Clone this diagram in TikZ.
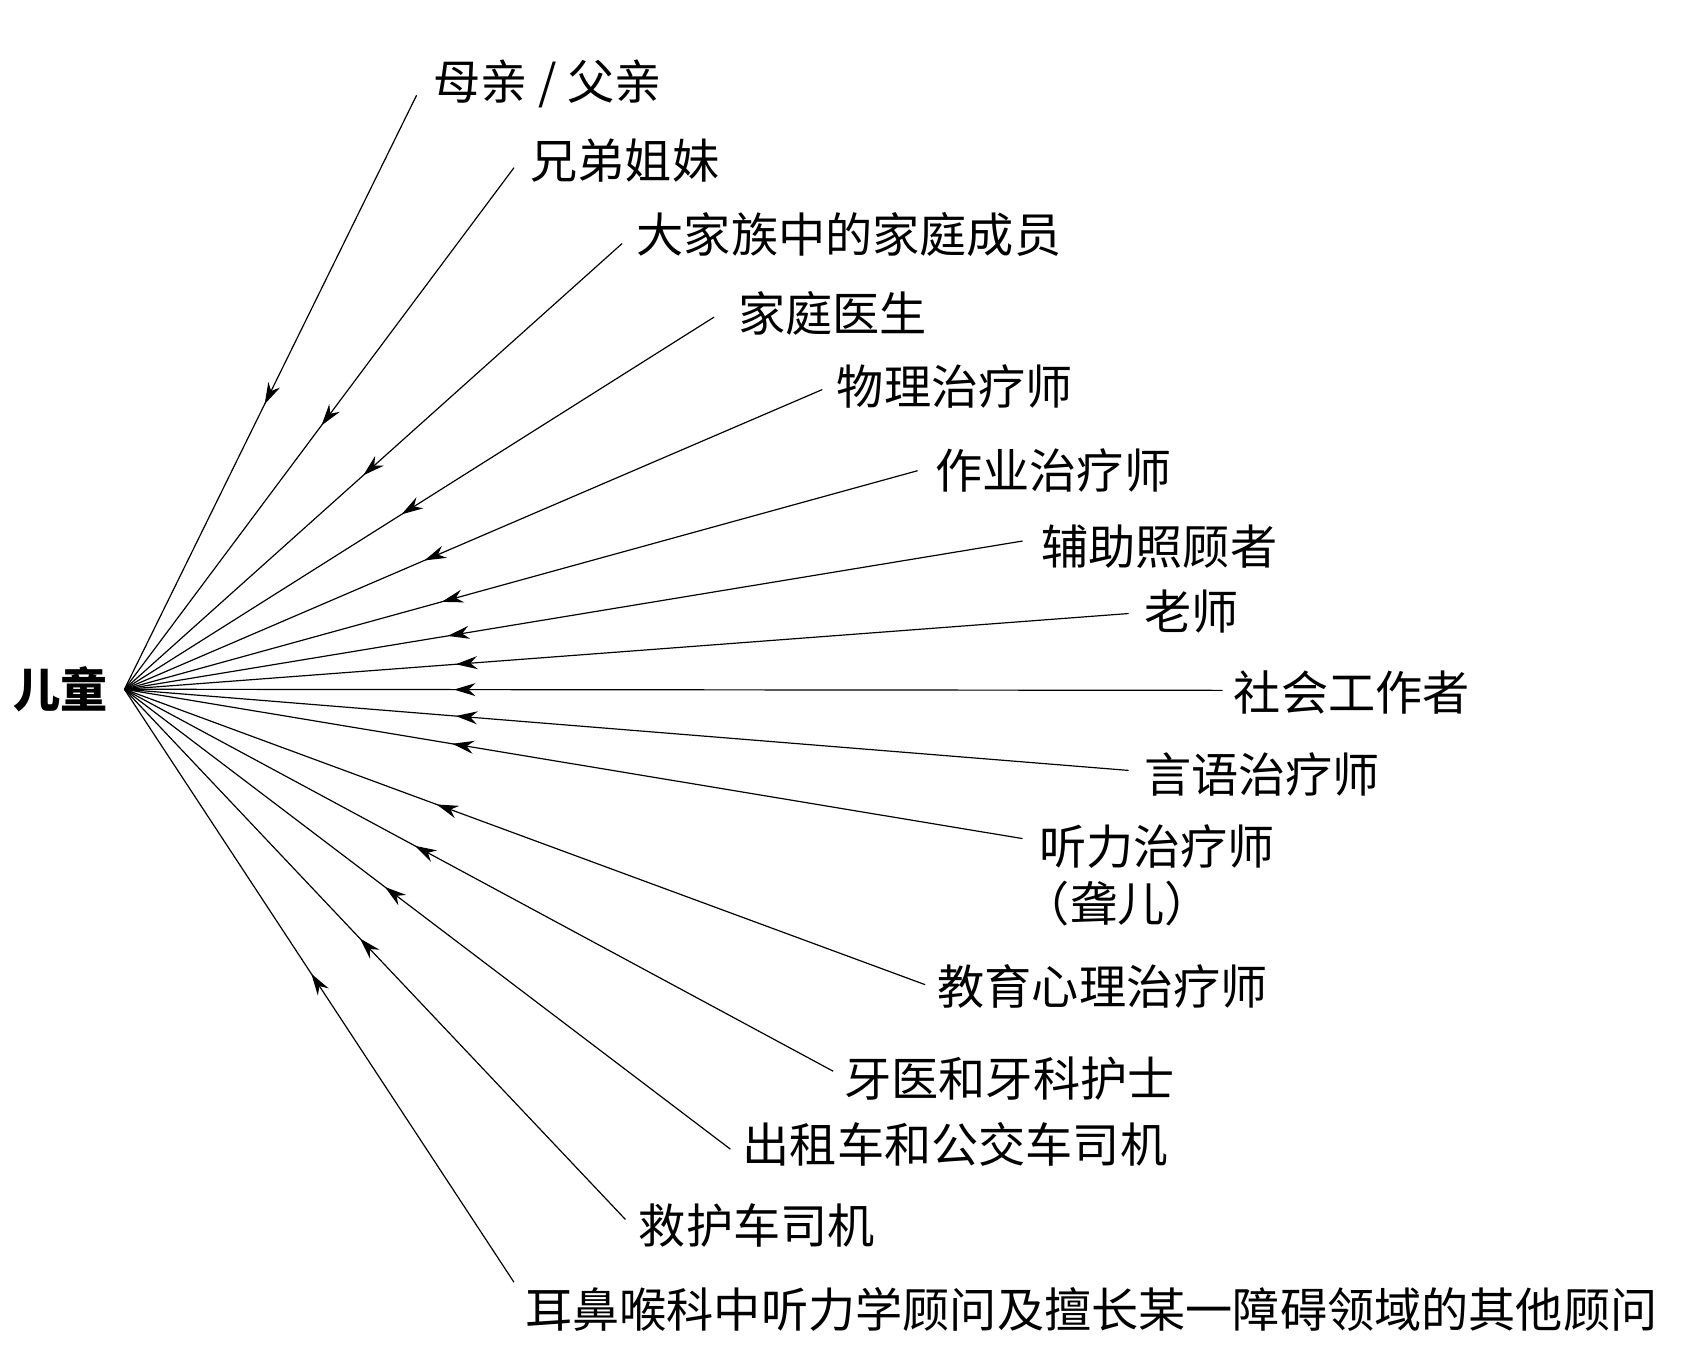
\documentclass[tikz,border=0pt]{standalone}
\usepackage{fontspec}
\setmainfont{Noto Sans CJK SC}
\usetikzlibrary{arrows.meta,decorations.markings}
\begin{document}
\begin{tikzpicture}[x=0.5pt,y=-0.5pt,
  lbl/.style={anchor=west,inner sep=0pt,font=\fontsize{21.8}{26}\selectfont},
  link/.style={line width=0.55pt,postaction={decorate},decoration={markings,mark=at position #1 with {\arrowreversed{Stealth[length=10pt,width=6pt]}}}}]
\useasboundingbox (0,0) rectangle (1560,1248);
\node[lbl,font=\fontsize{21.8}{26}\selectfont\bfseries] (hubt) at (12,637) {儿童};
\coordinate (hub) at (115,637);
\foreach \n/\ex/\ey/\tx/\ty/\t/\txt in {
 a/385/88/400/78/0.48/{母亲 / 父亲},
 b/475/155/490/148/0.506/{兄弟姐妹},
 c/575/225/588/217/0.48/{大家族中的家庭成员},
 d/660/293/682/290/0.47/{家庭医生},
 e/760/360/773/357/0.43/{物理治疗师},
 f/848/435/864/435/0.40/{作业治疗师},
 g/945/500/962/505/0.36/{辅助照顾者},
 h/1043/567/1057/565/0.33/{老师},
 i/1130/638/1140/640/0.30/{社会工作者},
 j/1043/712/1057/716/0.33/{言语治疗师},
 k/945/775/960/782/0.365/{听力治疗师},
 l/855/910/866/912/0.39/{教育心理治疗师},
 m/770/990/780/997/0.41/{牙医和牙科护士},
 n/675/1062/686/1058/0.43/{出租车和公交车司机},
 o/578/1127/590/1133/0.47/{救护车司机},
 p/475/1185/485/1210/0.48/{耳鼻喉科中听力学顾问及擅长某一障碍领域的其他顾问}}{
  \coordinate (e\n) at (\ex,\ey);
  \node[lbl] (t\n) at (\tx,\ty) {\txt};
  \draw[link=\t] (hub) -- (e\n);
}
\node[lbl] (tk2) at (945,835) {（聋儿）};
\end{tikzpicture}
\end{document}
